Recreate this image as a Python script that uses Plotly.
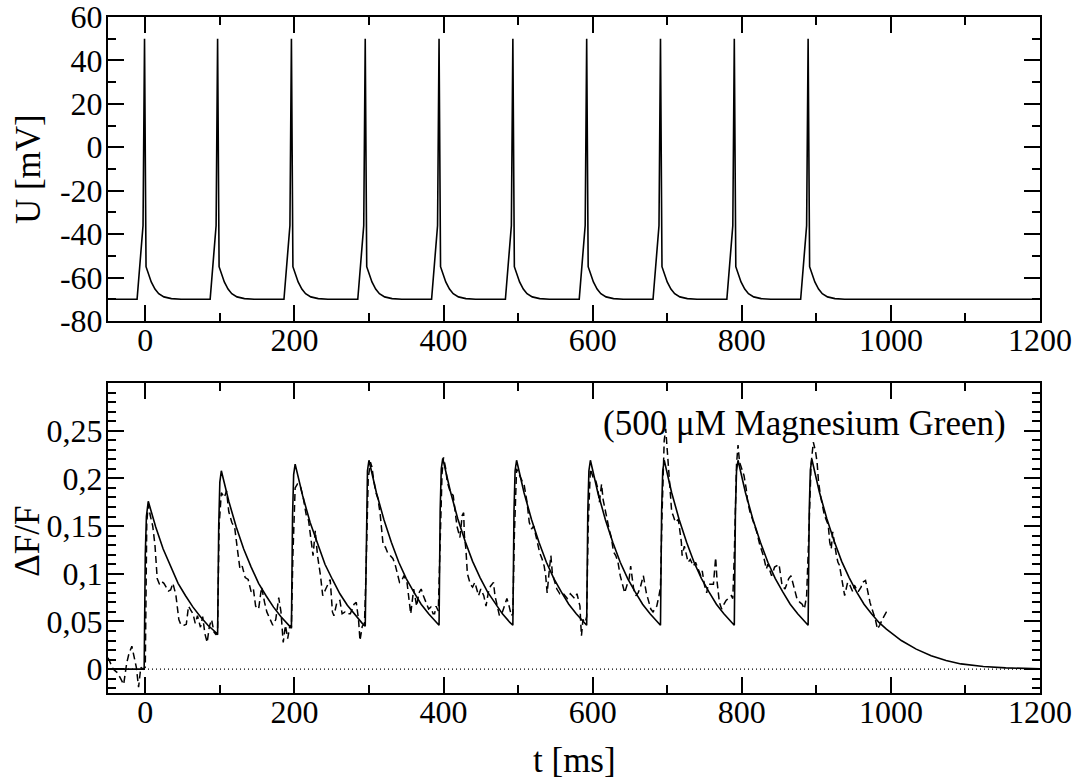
import plotly.graph_objects as go

# membrane potential (top panel)
u_t = [-50,
       -11, -3, -1, 1, 4, 8, 13, 18, 25, 35, 48,
       87, 95, 97, 99, 102, 106, 111, 116, 123, 133, 146,
       186, 194, 196, 198, 201, 205, 210, 215, 222, 232, 245,
       285, 293, 295, 297, 300, 304, 309, 314, 321, 331, 344,
       384, 392, 394, 396, 399, 403, 408, 413, 420, 430, 443,
       483, 491, 493, 495, 498, 502, 507, 512, 519, 529, 542,
       582, 590, 592, 594, 597, 601, 606, 611, 618, 628, 641,
       681, 689, 691, 693, 696, 700, 705, 710, 717, 727, 740,
       780, 788, 790, 792, 795, 799, 804, 809, 816, 826, 839,
       879, 887, 889, 891, 894, 898, 903, 908, 915, 925, 938,
       1200]
u_mv = [-70,
        -70, -36, 50, -55, -58.5, -62, -65.3, -67.4, -68.9, -69.7, -70,
        -70, -36, 50, -55, -58.5, -62, -65.3, -67.4, -68.9, -69.7, -70,
        -70, -36, 50, -55, -58.5, -62, -65.3, -67.4, -68.9, -69.7, -70,
        -70, -36, 50, -55, -58.5, -62, -65.3, -67.4, -68.9, -69.7, -70,
        -70, -36, 50, -55, -58.5, -62, -65.3, -67.4, -68.9, -69.7, -70,
        -70, -36, 50, -55, -58.5, -62, -65.3, -67.4, -68.9, -69.7, -70,
        -70, -36, 50, -55, -58.5, -62, -65.3, -67.4, -68.9, -69.7, -70,
        -70, -36, 50, -55, -58.5, -62, -65.3, -67.4, -68.9, -69.7, -70,
        -70, -36, 50, -55, -58.5, -62, -65.3, -67.4, -68.9, -69.7, -70,
        -70, -36, 50, -55, -58.5, -62, -65.3, -67.4, -68.9, -69.7, -70,
        -70]

# model fluorescence (solid)
fit_t = [-50, -1.5, 0, 1.5, 4, 9, 14, 24, 34, 44, 54, 64, 74, 84, 94, 97,
         98.5, 100, 102, 107, 112, 122, 132, 142, 152, 162, 172, 182, 192, 196,
         197.5, 199, 201, 206, 211, 221, 231, 241, 251, 261, 271, 281, 291, 295,
         296.5, 298, 300, 305, 310, 320, 330, 340, 350, 360, 370, 380, 390, 394,
         395.5, 397, 399, 404, 409, 419, 429, 439, 449, 459, 469, 479, 489, 493,
         494.5, 496, 498, 503, 508, 518, 528, 538, 548, 558, 568, 578, 588, 592,
         593.5, 595, 597, 602, 607, 617, 627, 637, 647, 657, 667, 677, 687, 691,
         692.5, 694, 696, 701, 706, 716, 726, 736, 746, 756, 766, 776, 786, 790,
         791.5, 793, 795, 800, 805, 815, 825, 835, 845, 855, 865, 875, 885, 889,
         890.5, 892, 894, 899, 904, 914, 924, 934, 944, 954, 964, 974, 984, 994,
         1014, 1034, 1054, 1074, 1094, 1124, 1154, 1200]
fit_v = [0, 0, 0.12, 0.160, 0.176, 0.162, 0.149, 0.126, 0.107, 0.090, 0.077, 0.065, 0.055, 0.046, 0.039, 0.036,
         0.150, 0.196, 0.208, 0.191, 0.176, 0.149, 0.126, 0.107, 0.090, 0.077, 0.065, 0.055, 0.046, 0.043,
         0.160, 0.204, 0.215, 0.198, 0.182, 0.154, 0.131, 0.110, 0.094, 0.079, 0.067, 0.057, 0.048, 0.045,
         0.165, 0.208, 0.219, 0.201, 0.185, 0.157, 0.133, 0.112, 0.095, 0.081, 0.068, 0.058, 0.049, 0.046,
         0.166, 0.210, 0.221, 0.203, 0.187, 0.158, 0.134, 0.113, 0.096, 0.081, 0.069, 0.058, 0.049, 0.046,
         0.165, 0.208, 0.219, 0.201, 0.185, 0.157, 0.133, 0.112, 0.095, 0.081, 0.068, 0.058, 0.049, 0.046,
         0.165, 0.208, 0.219, 0.201, 0.185, 0.157, 0.133, 0.112, 0.095, 0.081, 0.068, 0.058, 0.049, 0.046,
         0.165, 0.208, 0.219, 0.201, 0.185, 0.157, 0.133, 0.112, 0.095, 0.081, 0.068, 0.058, 0.049, 0.046,
         0.165, 0.208, 0.219, 0.201, 0.185, 0.157, 0.133, 0.112, 0.095, 0.081, 0.068, 0.058, 0.049, 0.046,
         0.166, 0.209, 0.220, 0.202, 0.186, 0.158, 0.134, 0.113, 0.096, 0.081, 0.068, 0.058, 0.049, 0.042,
         0.030, 0.021, 0.014, 0.009, 0.0055, 0.0028, 0.0013, 0.0004]

# measured fluorescence (dashed)
data_t = [-50, -46, -43, -40, -37, -33, -29, -25, -22, -18, -15, -12, -9, -6, -3, 0,
          2, 4, 7, 10, 13, 16, 19, 22, 25, 28, 31, 34, 37, 41, 45, 48, 52, 55, 58, 61, 64, 67, 70, 74,
          77, 80, 83, 86, 89, 92, 95,
          97, 99, 102, 106, 109, 112, 116, 120, 124, 127, 130, 134, 138, 142, 145, 148, 152, 156, 160,
          163, 167, 171, 175, 179, 182, 185, 188, 191, 194, 196,
          198, 201, 204, 208, 212, 216, 219, 222, 225, 228, 231, 235, 238, 242, 245, 248, 251, 253, 257,
          261, 264, 268, 271, 275, 280, 283, 286, 288, 291, 294,
          296, 299, 302, 304, 306, 309, 312, 315, 319, 322, 325, 329, 332, 335, 338, 341, 344, 347, 351,
          353, 356, 360, 364, 367, 370, 373, 376, 380, 383, 386, 388, 390, 393,
          395, 398, 400, 403, 405, 409, 413, 416, 418, 422, 425, 427, 428, 430, 432, 436, 439, 442, 445,
          447, 450, 454, 457, 460, 463, 467, 469, 472, 475, 479, 483, 485, 488, 491, 493,
          495, 498, 500, 505, 508, 512, 515, 518, 521, 525, 529, 532, 535, 537, 539, 542, 544, 546, 550,
          552, 556, 560, 563, 566, 570, 573, 576, 579, 583, 584, 585, 587, 590, 592,
          594, 597, 601, 604, 607, 609, 611, 612, 614, 618, 620, 622, 625, 628, 631, 634, 637, 640, 643,
          646, 649, 651, 653, 655, 658, 661, 664, 668, 672, 675, 678, 681, 686, 689, 691,
          693, 696, 698, 700, 703, 706, 708, 711, 715, 717, 719, 720, 723, 726, 728, 731, 735, 738, 741,
          745, 747, 750, 753, 755, 758, 762, 765, 767, 770, 773, 776, 779, 783, 786, 788,
          790, 793, 795, 797, 800, 803, 806, 808, 811, 813, 817, 820, 822, 824, 829, 831, 833, 835, 840,
          842, 844, 850, 852, 854, 858, 863, 866, 869, 871, 874, 878, 881, 884, 887,
          889, 893, 896, 899, 901, 903, 906, 909, 911, 916, 918, 920, 922, 927, 929, 931, 936, 938, 940,
          942, 945, 949, 951, 956, 960, 962, 966, 969, 972, 976, 979, 982, 985, 989, 994, 998]
data_v = [0.012, 0.004, 0.0, -0.002, -0.004, -0.010, -0.016, 0.006, 0.016, 0.024, 0.012, 0.002, -0.019, 0.002, 0.0, 0.002,
          0.154, 0.172, 0.160, 0.150, 0.130, 0.095, 0.089, 0.092, 0.090, 0.086, 0.082, 0.083, 0.090, 0.078, 0.052, 0.046, 0.046, 0.047, 0.066, 0.062, 0.058, 0.048, 0.056, 0.044,
          0.055, 0.037, 0.028, 0.045, 0.052, 0.039, 0.036,
          0.040, 0.150, 0.185, 0.180, 0.187, 0.165, 0.154, 0.148, 0.123, 0.105, 0.108, 0.096, 0.094, 0.081, 0.084, 0.066, 0.063, 0.086, 0.070,
          0.060, 0.053, 0.046, 0.052, 0.075, 0.060, 0.028, 0.046, 0.032, 0.046, 0.044,
          0.120, 0.190, 0.194, 0.192, 0.179, 0.161, 0.156, 0.140, 0.119, 0.145, 0.119, 0.098, 0.077, 0.084, 0.090, 0.094, 0.060, 0.056, 0.070,
          0.072, 0.058, 0.060, 0.058, 0.058, 0.068, 0.070, 0.052, 0.030, 0.045, 0.048,
          0.100, 0.200, 0.217, 0.212, 0.200, 0.186, 0.179, 0.163, 0.130, 0.128, 0.122, 0.119, 0.116, 0.110, 0.100, 0.091, 0.093, 0.098, 0.091,
          0.080, 0.058, 0.084, 0.066, 0.080, 0.084, 0.077, 0.070, 0.063, 0.065, 0.058, 0.058, 0.066, 0.061,
          0.120, 0.205, 0.222, 0.210, 0.196, 0.186, 0.182, 0.164, 0.150, 0.138, 0.161, 0.164, 0.140, 0.126, 0.100, 0.089, 0.086, 0.091, 0.082,
          0.077, 0.084, 0.077, 0.066, 0.080, 0.087, 0.091, 0.077, 0.066, 0.056, 0.060, 0.068, 0.074, 0.066, 0.056, 0.058,
          0.140, 0.210, 0.206, 0.198, 0.194, 0.175, 0.154, 0.147, 0.150, 0.137, 0.122, 0.116, 0.108, 0.098, 0.080, 0.105, 0.119, 0.100, 0.088,
          0.084, 0.079, 0.080, 0.077, 0.074, 0.079, 0.077, 0.074, 0.079, 0.066, 0.049, 0.035, 0.052, 0.049, 0.055,
          0.150, 0.210, 0.200, 0.198, 0.189, 0.175, 0.187, 0.194, 0.178, 0.161, 0.155, 0.147, 0.138, 0.123, 0.119, 0.112, 0.098, 0.088, 0.080,
          0.088, 0.095, 0.108, 0.098, 0.084, 0.077, 0.080, 0.086, 0.098, 0.080, 0.072, 0.063, 0.060, 0.066, 0.077, 0.086,
          0.160, 0.240, 0.252, 0.228, 0.189, 0.165, 0.161, 0.154, 0.157, 0.147, 0.133, 0.119, 0.129, 0.119, 0.112, 0.115, 0.108, 0.112, 0.106,
          0.098, 0.103, 0.088, 0.080, 0.089, 0.089, 0.089, 0.117, 0.091, 0.070, 0.063, 0.068, 0.072, 0.075, 0.077, 0.074,
          0.120, 0.215, 0.235, 0.217, 0.210, 0.203, 0.189, 0.175, 0.165, 0.161, 0.151, 0.144, 0.137, 0.131, 0.119, 0.112, 0.105, 0.110, 0.098,
          0.102, 0.107, 0.110, 0.098, 0.088, 0.084, 0.095, 0.098, 0.088, 0.081, 0.074, 0.070, 0.068, 0.063, 0.077,
          0.120, 0.215, 0.238, 0.228, 0.217, 0.196, 0.180, 0.168, 0.161, 0.151, 0.133, 0.126, 0.144, 0.119, 0.112, 0.109, 0.088, 0.077, 0.084,
          0.091, 0.088, 0.081, 0.088, 0.081, 0.086, 0.091, 0.093, 0.081, 0.070, 0.060, 0.053, 0.042, 0.046, 0.053, 0.060, 0.063]

zero_t = [-50, 1200]
zero_v = [0, 0]

u_ticks = [-80, -60, -40, -20, 0, 20, 40, 60]
u_labels = ["-80", "-60", "-40", "-20", "0", "20", "40", "60"]
f_ticks = [0, 0.05, 0.1, 0.15, 0.2, 0.25]
f_labels = ["0", "0,05", "0,1", "0,15", "0,2", "0,25"]
t_ticks = [0, 200, 400, 600, 800, 1000, 1200]
t_labels = ["0", "200", "400", "600", "800", "1000", "1200"]

FONT = "Liberation Serif, Times New Roman, serif"

fig = go.Figure()
fig.add_trace(go.Scatter(x=u_t, y=u_mv, mode="lines", xaxis="x", yaxis="y",
                         line=dict(color="black", width=1.6)))
fig.add_trace(go.Scatter(x=zero_t, y=zero_v, mode="lines", xaxis="x2", yaxis="y2",
                         line=dict(color="black", width=1.2, dash="1px,3px")))
fig.add_trace(go.Scatter(x=data_t, y=data_v, mode="lines", xaxis="x2", yaxis="y2",
                         line=dict(color="black", width=1.5, dash="7px,4px")))
fig.add_trace(go.Scatter(x=fit_t, y=fit_v, mode="lines", xaxis="x2", yaxis="y2",
                         line=dict(color="black", width=1.6)))

axis_common = dict(showline=True, linecolor="black", linewidth=2, mirror="ticks",
                   ticks="inside", ticklen=16, tickwidth=2, tickcolor="black",
                   showgrid=False, zeroline=False, automargin=False,
                   ticklabeloverflow="allow",
                   tickfont=dict(family=FONT, size=32, color="black"))

xa = dict(axis_common, range=[-50, 1200], tickvals=t_ticks, ticktext=t_labels,
          ticklabelstandoff=-10,
          minor=dict(ticks="inside", dtick=100, tick0=0, ticklen=8, tickwidth=1.5,
                     tickcolor="black", showgrid=False))

fig.update_layout(
    template="none",
    width=1078, height=779,
    margin=dict(l=108, r=38, t=17, b=86),
    paper_bgcolor="white", plot_bgcolor="white",
    showlegend=False,
    xaxis=dict(xa, domain=[0, 1], anchor="y"),
    yaxis=dict(axis_common, domain=[0.5503, 1], range=[-80, 60], anchor="x",
               tickvals=u_ticks, ticktext=u_labels, ticklabelstandoff=-3,
               minor=dict(ticks="inside", dtick=10, tick0=0, ticklen=8, tickwidth=1.5,
                          tickcolor="black", showgrid=False)),
    xaxis2=dict(xa, domain=[0, 1], anchor="y2"),
    yaxis2=dict(axis_common, domain=[0, 0.4586], range=[-0.025, 0.3], anchor="x2",
                tickvals=f_ticks, ticktext=f_labels, ticklabelstandoff=-3,
                minor=dict(ticks="inside", dtick=0.01, tick0=0, ticklen=8, tickwidth=1.5,
                           tickcolor="black", showgrid=False)),
    annotations=[
        dict(text="U [mV]", xref="paper", yref="paper", x=0, y=0.775, xshift=-80,
             textangle=-90, showarrow=False, xanchor="center", yanchor="middle",
             font=dict(family=FONT, size=35, color="black")),
        dict(text="ΔF/F", xref="paper", yref="paper", x=0, y=0.2238, xshift=-80,
             textangle=-90, showarrow=False, xanchor="center", yanchor="middle",
             font=dict(family=FONT, size=35, color="black")),
        dict(text="t [ms]", xref="paper", yref="paper", x=0.5, y=0, yshift=-67,
             showarrow=False, xanchor="center", yanchor="middle",
             font=dict(family=FONT, size=35, color="black")),
        dict(text="(500 μM Magnesium Green)", xref="paper", yref="paper",
             x=0.9657, y=0.3994, showarrow=False, xanchor="right", yanchor="middle",
             font=dict(family=FONT, size=35, color="black")),
    ],
)

# drop the browser's default body margin so the figure fills the window
fig.write_html("out.html", config={"displayModeBar": False},
               post_script="document.body.style.margin = '0px';")
